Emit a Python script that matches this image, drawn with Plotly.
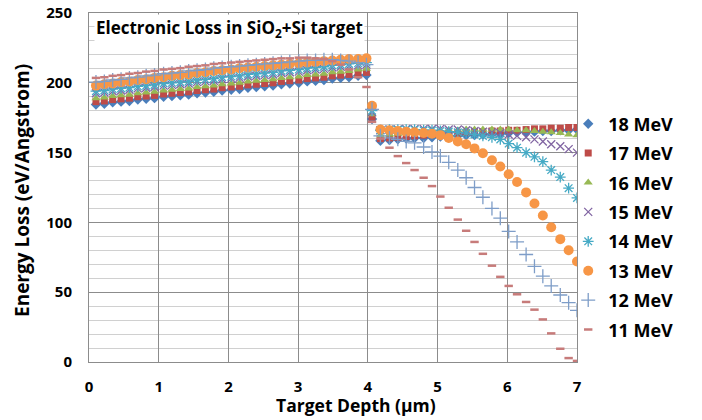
import plotly.graph_objects as go

# Target depth (µm): SiO2 layer then Si layer
depth = [0.10, 0.22, 0.34, 0.46, 0.58, 0.70, 0.82, 0.94, 1.07, 1.19, 1.31, 1.43, 1.55, 1.67,
         1.79, 1.91, 2.04, 2.16, 2.28, 2.40, 2.52, 2.64, 2.76, 2.88, 3.01, 3.13, 3.25, 3.37,
         3.49, 3.61, 3.73, 3.86, 3.98,
         4.06, 4.18, 4.31, 4.43, 4.55, 4.67, 4.80, 4.92, 5.04, 5.16, 5.29, 5.41, 5.53, 5.65,
         5.78, 5.90, 6.02, 6.14, 6.27, 6.39, 6.51, 6.63, 6.76, 6.88, 7.00]

loss_18 = [184.5, 185, 186, 186.5, 187, 188, 188.5, 189, 190, 190.5, 191, 191.5, 192.5, 193,
           193.5, 194.5, 195, 195.5, 196.5, 197, 197.5, 198, 199, 199.5, 200, 201, 201.5, 202,
           203, 203.5, 204, 205, 205.5,
           174, 158.5, 159, 159.5, 160, 160.5, 160.5, 161, 161.5, 161.5, 162, 162.5, 162.5, 163,
           163.5, 163.5, 164, 164.5, 164.5, 165, 165.5, 165.5, 166, 166, 166.5]
loss_17 = [186.5, 187, 188, 188.5, 189, 190, 190.5, 191, 192, 192.5, 193, 193.5, 194.5, 195,
           195.5, 196.5, 197, 197.5, 198.5, 199, 199.5, 200, 201, 201.5, 202, 203, 203.5, 204,
           205, 205.5, 206, 207, 207.5,
           175.5, 160, 160.5, 161, 161.5, 162, 162.5, 163, 163.5, 164, 164, 164.5, 165, 165,
           165.5, 165.5, 166, 166, 166.5, 167, 167, 167.5, 167.5, 168, 168]
loss_16 = [189, 189.5, 190.5, 191, 191.5, 192.5, 193, 193.5, 194.5, 195, 195.5, 196, 197, 197.5,
           198, 199, 199.5, 200, 201, 201.5, 202, 202.5, 203.5, 204, 204.5, 205.5, 206, 206.5,
           207.5, 208, 208.5, 209.5, 210,
           177.5, 162.5, 163, 163.5, 164, 164.5, 165, 165.5, 165.5, 166, 166, 166.5, 166.5, 166.5,
           166.5, 166.5, 166.5, 166, 166, 165.5, 165, 164.5, 164, 163, 162.5]
loss_15 = [192.5, 193, 194, 194.5, 195, 196, 196.5, 197, 198, 198.5, 199, 199.5, 200.5, 201,
           201.5, 202.5, 203, 203.5, 204.5, 205, 205.5, 206, 207, 207.5, 208, 209, 209.5, 210,
           211, 211.5, 212, 212.5, 213,
           179, 166, 166.5, 166.5, 167, 167, 167, 167, 167, 166.5, 166.5, 166, 165.5, 165,
           164.5, 164, 163, 162, 161, 159.5, 158, 156, 154.5, 152.5, 150]
loss_14 = [194, 194.5, 195.5, 196, 196.5, 197.5, 198, 198.5, 199.5, 200, 200.5, 201, 202, 202.5,
           203, 204, 204.5, 205, 206, 206.5, 207, 207.5, 208.5, 209, 209.5, 210.5, 211, 211.5,
           212.5, 213, 213.5, 214, 214.5,
           180, 166, 166.5, 166.5, 166.5, 166.5, 166, 166, 165.5, 165, 164.5, 164, 163, 162,
           161, 159.5, 156.5, 153.5, 150, 147, 143.5, 137.5, 132.5, 124.5, 117.5]
loss_13 = [198, 199, 199.5, 200.5, 201, 202, 202.5, 203.5, 204, 205, 205.5, 206, 207, 207.5,
           208.5, 209, 209.5, 210.5, 211, 211.5, 212, 212.5, 213, 213.5, 214, 214.5, 215, 215.5,
           216, 216.5, 217, 217, 217.5,
           183.5, 166.5, 166, 165.5, 165, 164.5, 164, 163.5, 162.5, 160.5, 158, 156, 153, 149.5,
           144.5, 140, 134.5, 129, 121.5, 113.5, 105, 96.5, 88, 80, 72]
loss_12 = [200.5, 201, 202, 202.5, 203.5, 204, 205, 205.5, 206.5, 207, 207.5, 208.5, 209, 209.5,
           210.5, 211, 211.5, 212, 212.5, 213, 213.5, 214, 214.5, 215, 215.5, 216, 216, 216.5,
           216.5, 216, 215.5, 214.5, 213,
           181, 162, 160.5, 159.5, 158, 157, 154, 150.5, 147.5, 143, 137.5, 132, 125, 118,
           110, 103, 93.5, 86, 77, 68.5, 61.5, 54.5, 48, 42.5, 37]
loss_11 = [203.5, 204, 205, 205.5, 206.5, 207, 208, 208.5, 209.5, 210, 210.5, 211.5, 212, 212.5,
           213.5, 214, 214.5, 215, 215.5, 216, 216.5, 217, 217.5, 217.5, 218, 218, 217.5, 217,
           215.5, 213, 209.5, 204, 197,
           172, 160, 153.5, 147.5, 142.5, 137.5, 132, 126, 118.5, 110.5, 102, 94, 86, 77.5,
           69, 61, 54.5, 48.5, 43, 37.5, 30.5, 20.5, 9.5, 2.8, 0.8]

series_names = ["18 MeV", "17 MeV", "16 MeV", "15 MeV", "14 MeV", "13 MeV", "12 MeV", "11 MeV"]
series_values = [loss_18, loss_17, loss_16, loss_15, loss_14, loss_13, loss_12, loss_11]

styles = [
    dict(symbol="diamond", size=8, color="#4A7EBB"),
    dict(symbol="square", size=7, color="#BE4B48"),
    dict(symbol="triangle-up", size=8, color="#98B954"),
    dict(symbol="x-thin", size=8, color="#8064A2", line=dict(width=1.3, color="#8064A2")),
    dict(symbol="asterisk", size=9, color="#46AAC5", line=dict(width=1.3, color="#46AAC5")),
    dict(symbol="circle", size=10, color="#F79646"),
    dict(symbol="cross-thin", size=10, color="#7E9DC8", line=dict(width=1.3, color="#7E9DC8")),
    dict(symbol="line-ew", size=6, color="#C77B7A", line=dict(width=2.5, color="#C77B7A")),
]

fig = go.Figure()
for i in range(len(series_names)):
    st = dict(styles[i])
    if "line" not in st:
        st["line"] = dict(width=0)
    fig.add_trace(go.Scatter(
        x=depth, y=series_values[i], mode="markers", name=series_names[i],
        legendgroup=series_names[i], marker=st,
    ))

# the page body has an 8px margin, so the figure is 8px smaller than the window
ff = "Open Sans"
fig.update_layout(
    width=694, height=412,
    margin=dict(l=81, r=125, t=5, b=58),
    paper_bgcolor="white", plot_bgcolor="white",
    font=dict(family=ff, color="black"),
    showlegend=True,
    legend=dict(x=0.982, xanchor="left", y=0.735, yanchor="top",
                font=dict(size=18, family=ff, weight="bold"),
                tracegroupgap=3, bgcolor="rgba(0,0,0,0)", itemwidth=30),
    xaxis=dict(range=[0, 7], dtick=1, tick0=0, automargin=False,
               showgrid=True, gridcolor="#8C8C8C", gridwidth=1,
               showline=True, linecolor="#8C8C8C", mirror=True, zeroline=False,
               ticks="outside", ticklen=11, tickcolor="rgba(0,0,0,0)",
               tickfont=dict(size=15, family=ff, weight="bold")),
    yaxis=dict(range=[0, 250], dtick=50, tick0=0, automargin=False,
               ticklabeloverflow="allow",
               showgrid=True, gridcolor="#8C8C8C", gridwidth=1,
               minor=dict(dtick=10, showgrid=True, gridcolor="#D0D0D0", gridwidth=1),
               showline=True, linecolor="#8C8C8C", mirror=True, zeroline=False,
               ticks="outside", ticklen=13, tickcolor="rgba(0,0,0,0)",
               tickfont=dict(size=15, family=ff, weight="bold")),
    annotations=[
        dict(text="Electronic Loss in SiO<sub>2</sub>+Si target",
             xref="paper", yref="paper", x=0.011, y=0.957, xanchor="left", yanchor="middle",
             showarrow=False, bgcolor="white", borderpad=1,
             font=dict(size=17, family=ff, weight="bold", color="black")),
        dict(text="Target Depth (μm)",
             xref="paper", yref="paper", x=(356 - 89) / 488, y=(362 - 405) / 349,
             xanchor="center", yanchor="middle", showarrow=False,
             font=dict(size=17.5, family=ff, weight="bold", color="black")),
        dict(text="Energy Loss (eV/Angstrom)", textangle=-90,
             xref="paper", yref="paper", x=(22 - 89) / 488, y=(362 - 191) / 349,
             xanchor="center", yanchor="middle", showarrow=False,
             font=dict(size=19, family=ff, weight="bold", color="black")),
    ],
)

fig.write_html("out.html")
